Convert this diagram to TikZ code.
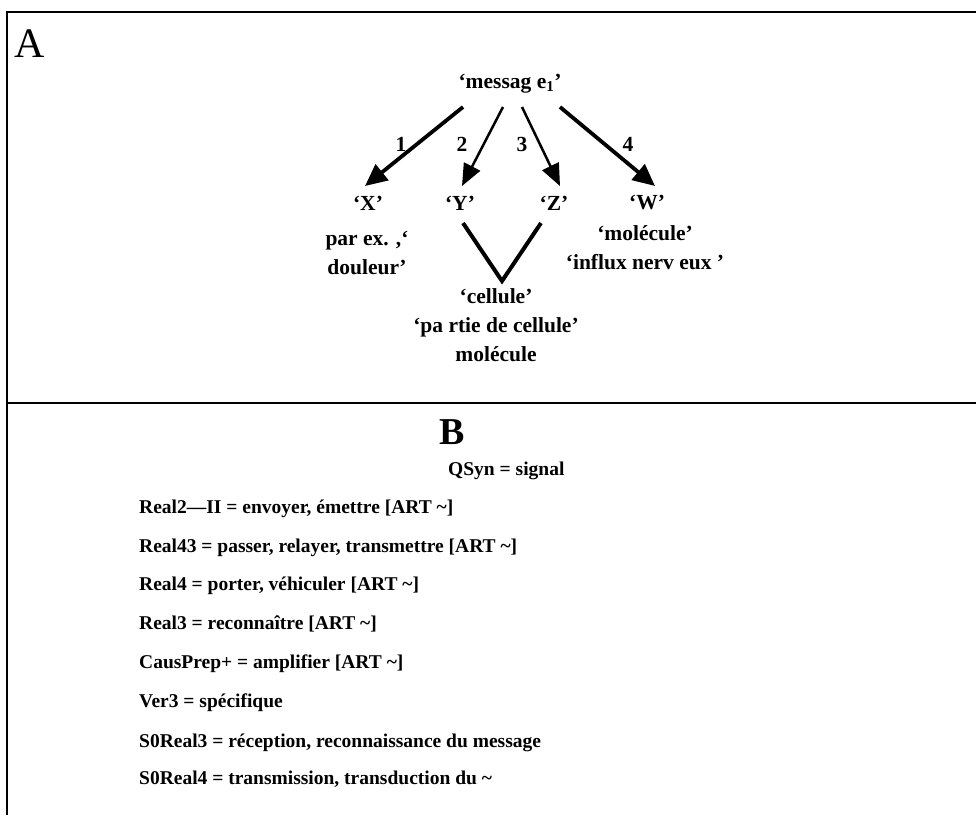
\documentclass[tikz,border=0pt]{standalone}
\usepackage{fontspec}
\setmainfont{Liberation Serif}
\usetikzlibrary{arrows.meta}
\tikzset{
  frame/.style={line width=1.8pt, black},
  toptext/.style={font=\fontsize{21.5}{29}\selectfont\bfseries, align=center, inner sep=0pt},
  numlbl/.style={font=\fontsize{21.5}{24}\selectfont\bfseries, inner sep=0pt},
  bigletter/.style={font=\fontsize{42}{42}\selectfont, inner sep=0pt},
  deftext/.style={font=\fontsize{19.5}{24}\selectfont\bfseries, inner sep=0pt, anchor=base west},
  thickarr/.style={line width=3.8pt, -{Triangle[length=22pt,width=20pt]}},
  thinarr/.style={line width=2.5pt, -{Triangle[length=22pt,width=18pt]}},
  vline/.style={line width=4pt, line join=miter}
}
\begin{document}
\begin{tikzpicture}[x=1pt,y=-1pt]
\useasboundingbox (0,0) rectangle (976,815);
% frame
\coordinate (tl) at (7,12);
\coordinate (tr) at (976,12);
\coordinate (bl) at (7,815);
\coordinate (ml) at (7,403);
\coordinate (mr) at (976,403);
\draw[frame] (tr) -- (tl) -- (bl);
\draw[frame] (ml) -- (mr);

% Part A
\node[bigletter] (A) at (30,44) {A};
\node[toptext] (msg) at (510,84) {‘messag e\textsubscript{1}’};
\node[toptext] (X) at (368,203) {‘X’};
\node[toptext] (Y) at (460,203) {‘Y’};
\node[toptext] (Z) at (554,203) {‘Z’};
\node[toptext] (W) at (647,203) {‘W’};
\node[toptext] (Xd) at (367,253) {par ex. ,‘\\douleur’};
\node[toptext] (Wd) at (645,248) {‘molécule’\\‘influx nerv eux ’};
\node[toptext] (cel) at (496,325) {‘cellule’\\‘pa rtie de cellule’\\molécule};

\coordinate (s1) at (463,107); \coordinate (t1) at (365,186);
\coordinate (s2) at (503,107); \coordinate (t2) at (462,186);
\coordinate (s3) at (522,107); \coordinate (t3) at (560,186);
\coordinate (s4) at (560,107); \coordinate (t4) at (655,186);
\draw[thickarr] (s1) -- (t1);
\draw[thinarr] (s2) -- (t2);
\draw[thinarr] (s3) -- (t3);
\draw[thickarr] (s4) -- (t4);
\node[numlbl] (n1) at (401,144) {1};
\node[numlbl] (n2) at (462,144) {2};
\node[numlbl] (n3) at (522,144) {3};
\node[numlbl] (n4) at (628,144) {4};

\coordinate (vl) at (463,223);
\coordinate (vb) at (502,281);
\coordinate (vr) at (541,223);
\draw[vline] (vl) -- (vb) -- (vr);

% Part B
\node[bigletter, font=\fontsize{38}{38}\selectfont\bfseries] (B) at (452,432) {B};
\node[deftext] (q) at (448,475) {QSyn = signal};
\node[deftext] (d1) at (139,513) {Real2—II = envoyer, émettre [ART \textasciitilde]};
\node[deftext] (d2) at (139,552) {Real43 = passer, relayer, transmettre [ART \textasciitilde]};
\node[deftext] (d3) at (139,590) {Real4 = porter, véhiculer [ART \textasciitilde]};
\node[deftext] (d4) at (139,629) {Real3 = reconnaître [ART \textasciitilde]};
\node[deftext] (d5) at (139,668) {CausPrep+ = amplifier [ART \textasciitilde]};
\node[deftext] (d6) at (139,707) {Ver3 = spécifique};
\node[deftext] (d7) at (139,747) {S0Real3 = réception, reconnaissance du message};
\node[deftext] (d8) at (139,784) {S0Real4 = transmission, transduction du \textasciitilde};
\end{tikzpicture}
\end{document}
